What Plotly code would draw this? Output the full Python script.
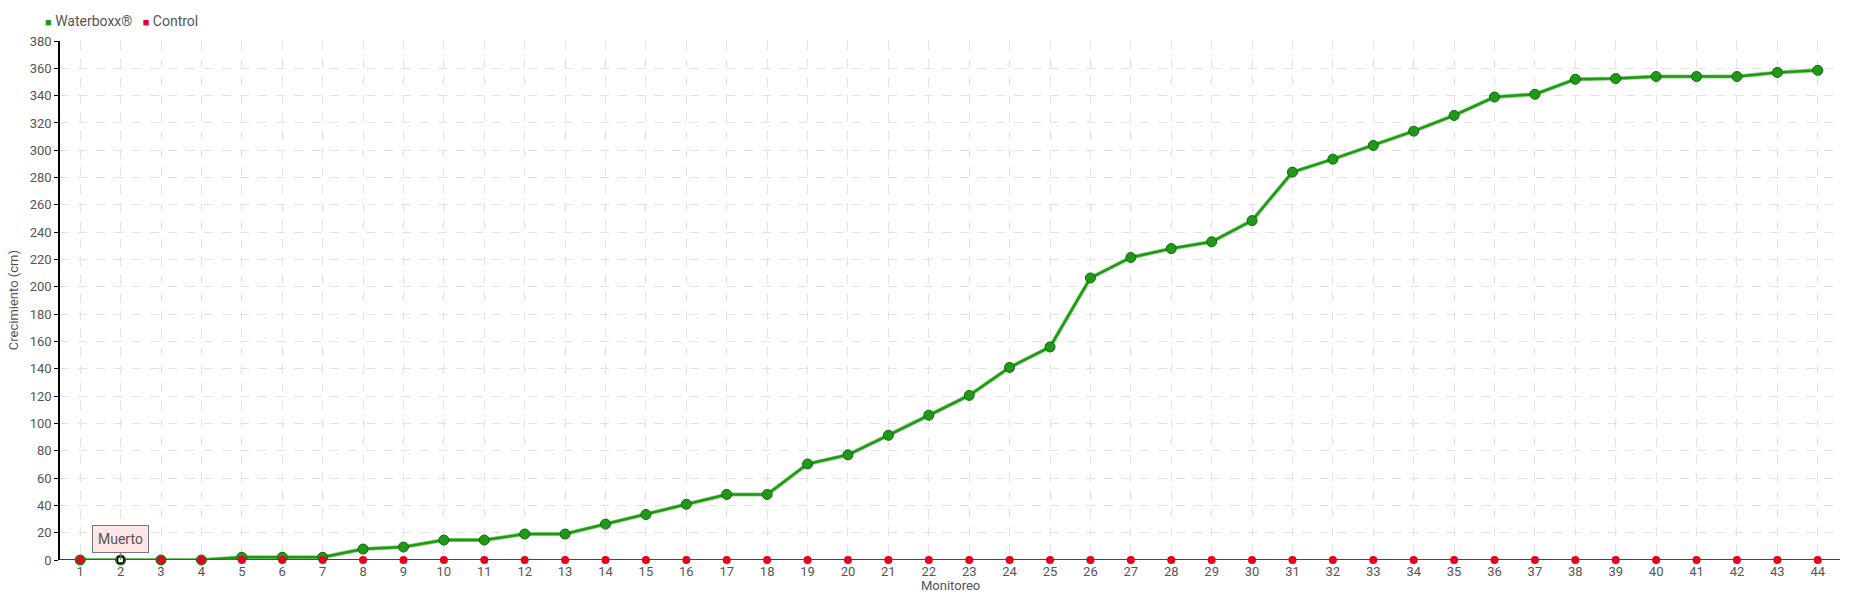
import plotly.graph_objects as go

monitoreo = list(range(1, 45))
waterboxx = [0, 0, 0, 0, 2, 2, 2, 8, 9.5, 14.6, 14.6, 19, 19, 26.3, 33.3, 40.8,
             48, 48, 70.3, 77, 91.3, 106, 120.5, 141, 156, 206.5, 221.5, 228,
             233, 248.5, 284, 293.5, 303.5, 314, 325.5, 339, 341, 352, 352.5,
             354, 354, 354, 357, 358.5]
control = [0] * 44

GREEN = "#1e9a12"
RED = "#e8001c"
FONT = "Roboto, sans-serif"
TXT = "#555"

fig = go.Figure()

# light shadow under the green line
fig.add_trace(go.Scatter(
    x=monitoreo, y=waterboxx, mode="lines", cliponaxis=False,
    line=dict(color="#8fd08a", width=4), showlegend=False, hoverinfo="skip"
))
fig.add_trace(go.Scatter(
    x=monitoreo, y=waterboxx, mode="lines+markers", name="Waterboxx®",
    line=dict(color=GREEN, width=2.5), cliponaxis=False,
    marker=dict(size=10, color="#1f9a17", line=dict(color="#13650e", width=1)),
    showlegend=False
))
fig.add_trace(go.Scatter(
    x=monitoreo, y=control, mode="lines+markers", name="Control",
    line=dict(color=RED, width=1.5), cliponaxis=False,
    marker=dict(size=8, color=RED),
    showlegend=False
))
# "Muerto" point marker
fig.add_trace(go.Scatter(
    x=[2], y=[0], mode="markers", cliponaxis=False,
    marker=dict(symbol="square", size=6, color="white", line=dict(color="black", width=1.5)),
    showlegend=False, hoverinfo="skip"
))

# x axis baseline, kept under the traces
fig.add_shape(type="line", xref="paper", yref="y", x0=0, x1=1, y0=0, y1=0,
              line=dict(color="black", width=1.5), layer="below")

fig.add_annotation(
    x=2, y=0, text="Muerto", showarrow=True, arrowhead=0, arrowcolor="#777",
    arrowwidth=1, ax=0, ay=-21, bgcolor="#fde6e6", bordercolor="#777",
    borderwidth=1, borderpad=5, font=dict(size=14, color=TXT, family=FONT)
)

# legend drawn as text with square swatches
fig.add_annotation(
    xref="paper", yref="paper", x=-0.0095, y=1.0385, xanchor="left", yanchor="middle",
    showarrow=False, font=dict(size=14, color=TXT, family=FONT),
    text=f"<span style='color:{GREEN};font-size:11px'>■</span> Waterboxx®   "
         f"<span style='color:{RED};font-size:11px'>■</span> Control"
)
# axis titles
fig.add_annotation(
    xref="paper", yref="paper", x=0.5, y=-0.05, xanchor="center", yanchor="middle",
    showarrow=False, text="Monitoreo", font=dict(size=13, color=TXT, family=FONT)
)
fig.add_annotation(
    xref="paper", yref="paper", x=-0.026, y=0.5, xanchor="center", yanchor="middle",
    showarrow=False, text="Crecimiento (cm)", textangle=-90,
    font=dict(size=13, color=TXT, family=FONT)
)

fig.update_layout(
    width=1860, height=600,
    margin=dict(l=60, r=20, t=41, b=40),
    plot_bgcolor="white", paper_bgcolor="white",
    font=dict(family=FONT, size=13, color=TXT),
    showlegend=False,
    hovermode="closest",
)
fig.update_xaxes(
    range=[0.5, 44.55], tickmode="array", tickvals=monitoreo,
    ticktext=[str(v) for v in monitoreo], automargin=False,
    showgrid=True, gridcolor="#e3e3e3", griddash="dash", gridwidth=1,
    showline=False, zeroline=False,
    ticks="", ticklabelstandoff=2,
    tickfont=dict(size=13, color=TXT),
)
fig.update_yaxes(
    range=[0, 380], dtick=20, tick0=0, automargin=False,
    showgrid=True, gridcolor="#e3e3e3", griddash="dash", gridwidth=1,
    showline=True, linecolor="black", linewidth=1.5, zeroline=False,
    ticks="outside", ticklen=4, tickcolor="black", layer="below traces",
    tickfont=dict(size=13, color=TXT),
)

fig.write_html("out.html", config={"displayModeBar": False},
               post_script="document.body.style.margin='0';")
